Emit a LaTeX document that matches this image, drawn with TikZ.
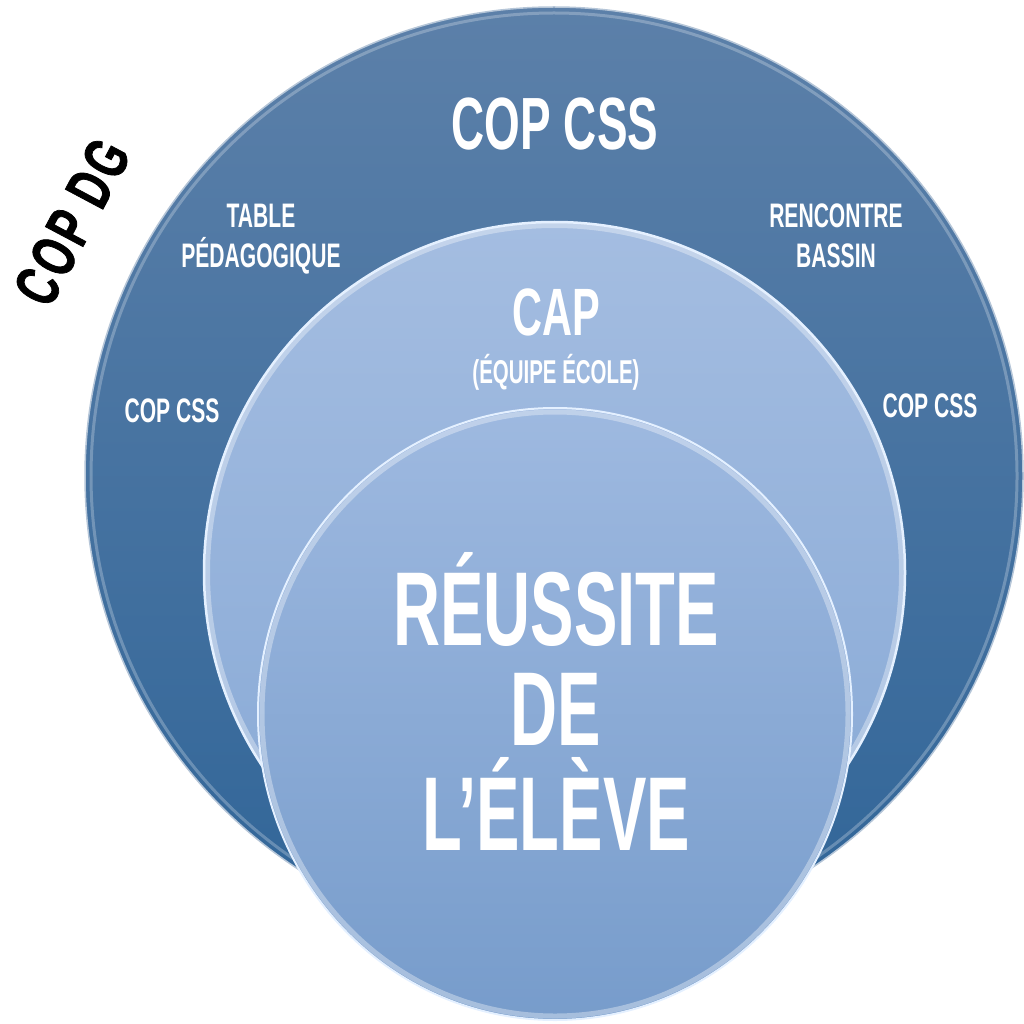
\documentclass[tikz,border=0pt]{standalone}
\usepackage{fontspec}
\newfontfamily\agency[FakeStretch=0.62]{Liberation Sans}
\newfontfamily\agencydg[FakeStretch=0.66, LetterSpace=6, FakeBold=1.2]{Liberation Sans}
\usetikzlibrary{shapes.geometric}
\definecolor{outerTop}{HTML}{5C80A9}
\definecolor{outerBot}{HTML}{306598}
\definecolor{midTop}{HTML}{A4BDE1}
\definecolor{midBot}{HTML}{86A8D5}
\definecolor{innTop}{HTML}{9EB9E0}
\definecolor{innBot}{HTML}{779CCB}
\definecolor{rim}{HTML}{E4F0FF}
\begin{document}
\begin{tikzpicture}[x=1pt,y=-1pt,
  disc/.style={inner sep=0pt, outer sep=0pt},
  lbl/.style={text=white, inner sep=0pt, anchor=base},
  glow/.style={draw=white, line width=5pt, opacity=0.35},
  fsize/.style={font=\agency\bfseries\fontsize{#1}{#1}\selectfont}]
\useasboundingbox (0,0) rectangle (1024,1024);
\clip (0,0) rectangle (1024,1024);
% circles
\node[disc, circle, minimum size=938pt, top color=outerTop, bottom color=outerBot,
      draw=outerTop!45!white, line width=1.5pt] (outer) at (554,476) {};
\draw[draw=white, line width=3pt, opacity=0.25] (outer.center) circle[radius=463];
\node[disc, circle, minimum size=701pt, top color=midTop, bottom color=midBot,
      draw=rim, line width=2.5pt] (mid) at (554.5,572.5) {};
\draw[glow] (mid.center) circle[radius=347];
\node[disc, ellipse, minimum width=594pt, minimum height=612pt, top color=innTop, bottom color=innBot,
      draw=rim, line width=2pt] (inner) at (555,714) {};
\draw[glow] (inner.center) ellipse[x radius=293, y radius=302];
% outer ring labels
\node[lbl, fsize=74] (copcsstop) at (555,150) {COP CSS};
\node[lbl, fsize=34] (table) at (261,227) {TABLE};
\node[lbl, fsize=34] (peda) at (261,267) {PÉDAGOGIQUE};
\node[lbl, fsize=34] (rencontre) at (836,227) {RENCONTRE};
\node[lbl, fsize=34] (bassin) at (836,267) {BASSIN};
\node[lbl, fsize=34] (copcssl) at (172,422) {COP CSS};
\node[lbl, fsize=34] (copcssr) at (930,417) {COP CSS};
% middle circle labels
\node[lbl, fsize=67] (cap) at (556,335) {CAP};
\node[lbl, fsize=33] (equipe) at (556,383) {(ÉQUIPE ÉCOLE)};
% inner circle labels
\node[lbl, fsize=105] (reussite) at (556,645) {RÉUSSITE};
\node[lbl, fsize=105] (de) at (556,745) {DE};
\node[lbl, fsize=105] (eleve) at (556,850) {L’ÉLÈVE};
% outside label
\node[inner sep=0pt, text=black, font=\agencydg\bfseries\fontsize{62}{62}\selectfont, rotate=62] (copdg) at (72,222) {COP DG};
\end{tikzpicture}
\end{document}
